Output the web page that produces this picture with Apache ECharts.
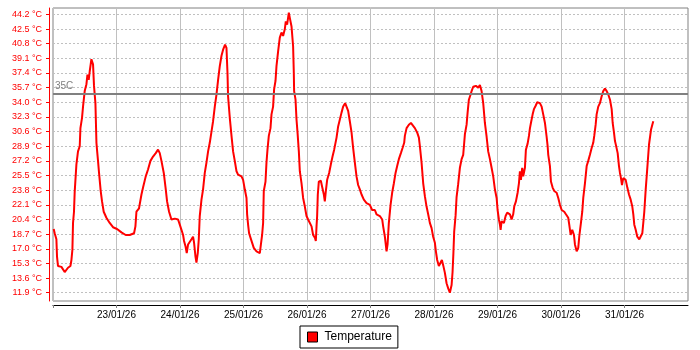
<!DOCTYPE html>
<html>
<head>
<meta charset="utf-8">
<script src="https://cdn.jsdelivr.net/npm/echarts@6/dist/echarts.min.js"></script>
<style>
html,body{margin:0;padding:0;background:#fff;}
#chart{width:700px;height:350px;}
</style>
</head>
<body>
<div id="chart"></div>
<script>
const seriesName = 'Temperature';
const thresholdValue = 35;
const thresholdLabel = '35C';
const yTicks = [11.9, 13.6, 15.3, 17.0, 18.7, 20.4, 22.1, 23.8, 25.5, 27.2, 28.9, 30.6, 32.3, 34.0, 35.7, 37.4, 39.1, 40.8, 42.5, 44.2];
const xStart = '2026-01-22 00:00';
const xEnd = '2026-02-01 00:00';

const times = [
'01-22 00:16','01-22 00:38','01-22 01:17','01-22 01:31','01-22 01:53','01-22 03:11','01-22 04:25','01-22 05:40','01-22 06:35','01-22 06:58',
'01-22 07:20','01-22 07:34','01-22 07:56','01-22 08:12','01-22 08:51','01-22 09:27','01-22 10:06','01-22 10:22','01-22 10:58','01-22 11:21',
'01-22 11:59','01-22 12:38','01-22 13:01','01-22 13:30','01-22 13:53','01-22 14:31','01-22 15:08','01-22 15:30','01-22 16:02','01-22 16:25',
'01-22 16:38','01-22 17:01','01-22 17:24','01-22 18:02','01-22 18:32','01-22 19:10','01-22 20:11','01-22 21:26','01-22 22:41',
'01-23 00:12','01-23 01:52','01-23 03:29','01-23 05:00','01-23 06:38','01-23 07:09','01-23 07:32','01-23 08:31','01-23 09:26','01-23 10:02',
'01-23 11:03','01-23 11:55','01-23 12:50','01-23 13:49','01-23 14:50','01-23 15:42','01-23 16:21','01-23 16:59','01-23 17:52','01-23 18:37',
'01-23 19:07','01-23 19:52','01-23 20:46','01-23 22:01','01-23 23:16','01-23 23:55',
'01-24 00:33','01-24 01:10','01-24 01:32','01-24 02:04','01-24 02:33','01-24 03:03','01-24 03:41','01-24 04:20','01-24 04:56','01-24 05:19',
'01-24 05:51','01-24 06:13','01-24 06:43','01-24 07:06','01-24 07:28','01-24 08:07','01-24 08:43','01-24 09:22','01-24 10:00','01-24 10:37',
'01-24 11:15','01-24 11:54','01-24 12:30','01-24 13:09','01-24 13:47','01-24 14:24','01-24 15:02','01-24 15:41','01-24 16:17','01-24 17:02',
'01-24 17:34','01-24 17:57','01-24 18:10','01-24 18:49','01-24 19:28','01-24 20:04','01-24 20:42','01-24 21:21','01-24 21:57','01-24 23:14','01-24 23:51',
'01-25 00:29','01-25 01:08','01-25 01:22','01-25 01:44','01-25 02:07','01-25 02:38','01-25 03:53','01-25 04:55','01-25 06:10','01-25 06:48',
'01-25 07:02','01-25 07:25','01-25 07:40','01-25 08:19','01-25 08:41','01-25 09:04','01-25 09:34','01-25 10:12','01-25 10:35','01-25 11:11',
'01-25 11:34','01-25 12:06','01-25 12:28','01-25 13:05','01-25 13:43','01-25 14:22','01-25 14:58','01-25 15:37','01-25 15:59','01-25 16:29',
'01-25 17:08','01-25 17:30','01-25 18:09','01-25 18:45','01-25 19:01','01-25 19:08','01-25 19:40','01-25 20:02','01-25 20:25','01-25 20:55',
'01-25 21:17','01-25 21:56','01-25 22:32','01-25 23:11','01-25 23:49',
'01-26 00:25','01-26 01:43','01-26 02:19','01-26 02:58','01-26 03:20','01-26 03:36','01-26 03:50','01-26 04:05','01-26 04:28','01-26 05:14',
'01-26 05:43','01-26 06:22','01-26 06:44','01-26 07:07','01-26 07:37','01-26 08:22','01-26 09:01','01-26 09:39','01-26 10:16','01-26 11:10',
'01-26 11:46','01-26 12:25','01-26 13:03','01-26 13:40','01-26 14:25','01-26 15:03','01-26 15:33','01-26 16:11','01-26 16:50','01-26 17:26',
'01-26 18:05','01-26 18:43','01-26 19:20','01-26 19:58','01-26 20:37','01-26 21:29','01-26 22:31','01-26 23:45',
'01-27 00:37','01-27 01:39','01-27 02:17','01-27 03:32','01-27 04:25','01-27 04:47','01-27 05:26','01-27 06:04','01-27 06:27','01-27 06:56',
'01-27 07:35','01-27 08:11','01-27 08:50','01-27 09:28','01-27 10:05','01-27 10:43','01-27 11:29','01-27 12:07','01-27 12:44','01-27 12:59',
'01-27 13:38','01-27 14:30','01-27 15:16','01-27 16:01','01-27 16:46','01-27 17:38','01-27 18:17','01-27 18:40','01-27 19:18','01-27 19:55',
'01-27 20:33','01-27 21:11','01-27 21:48','01-27 22:26','01-27 23:05','01-27 23:41',
'01-28 00:20','01-28 00:43','01-28 01:12','01-28 01:50','01-28 02:29','01-28 02:59','01-28 03:28','01-28 04:07','01-28 04:45','01-28 05:22',
'01-28 06:00','01-28 06:39','01-28 07:01','01-28 07:20','01-28 07:38','01-28 08:10','01-28 08:32','01-28 09:08','01-28 09:47','01-28 10:26',
'01-28 11:02','01-28 11:25','01-28 11:41','01-28 12:19','01-28 12:42','01-28 13:11','01-28 13:50','01-28 14:13','01-28 14:49','01-28 15:50',
'01-28 16:43','01-28 17:21','01-28 17:59','01-28 18:36','01-28 19:14','01-28 19:53','01-28 20:29','01-28 21:08','01-28 21:46','01-28 22:23',
'01-28 23:01','01-28 23:40',
'01-29 00:02','01-29 00:32','01-29 00:55','01-29 01:11','01-29 01:33','01-29 02:25','01-29 03:04','01-29 03:40','01-29 04:41','01-29 05:20',
'01-29 05:56','01-29 06:19','01-29 06:58','01-29 07:36','01-29 08:06','01-29 08:28','01-29 08:51','01-29 09:20','01-29 09:43','01-29 10:22',
'01-29 10:44','01-29 11:23','01-29 11:53','01-29 12:16','01-29 12:38','01-29 13:17','01-29 13:46','01-29 14:25','01-29 15:01','01-29 16:02',
'01-29 16:41','01-29 17:17','01-29 17:56','01-29 18:34','01-29 18:57','01-29 19:11','01-29 19:49','01-29 20:12','01-29 20:50','01-29 21:27',
'01-29 22:21','01-29 22:58','01-29 23:36',
'01-30 00:15','01-30 01:14','01-30 01:52','01-30 02:44','01-30 03:07','01-30 03:39','01-30 04:15','01-30 04:54','01-30 05:16','01-30 05:55',
'01-30 06:31','01-30 06:54','01-30 07:32','01-30 08:02','01-30 08:25','01-30 09:03','01-30 09:42','01-30 10:18','01-30 10:56','01-30 11:35',
'01-30 12:11','01-30 12:34','01-30 13:06','01-30 13:28','01-30 14:05','01-30 14:43','01-30 15:22','01-30 15:58','01-30 16:37','01-30 17:16',
'01-30 17:52','01-30 18:31','01-30 19:09','01-30 19:32','01-30 20:01','01-30 20:24','01-30 20:47','01-30 21:25','01-30 21:55','01-30 22:17',
'01-30 22:40','01-30 23:03','01-30 23:32',
'01-31 00:27','01-31 01:04','01-31 01:42','01-31 02:20','01-31 02:57','01-31 03:20','01-31 03:42','01-31 04:14','01-31 04:50','01-31 05:35',
'01-31 06:14','01-31 06:44','01-31 07:06','01-31 07:29','01-31 08:01','01-31 08:23','01-31 08:46','01-31 09:16','01-31 10:01','01-31 10:31','01-31 10:53'
];

const temps = [
19.3,18.8,18.1,16.1,15.0,14.9,14.3,14.8,15.0,15.7,
16.9,20.0,21.3,23.6,26.8,28.3,28.9,31.0,32.2,33.5,
35.3,36.1,37.2,36.6,37.6,39.0,38.4,35.9,33.9,29.3,
28.5,27.2,25.8,23.7,22.5,21.3,20.6,20.0,19.5,
19.3,18.9,18.6,18.6,18.8,19.6,21.3,21.7,23.3,24.1,
25.4,26.2,27.2,27.7,28.1,28.5,28.1,27.2,25.8,23.9,
22.5,21.3,20.4,20.5,20.4,19.8,
19.2,18.6,17.9,17.3,16.5,17.5,17.7,18.1,18.4,17.7,
16.1,15.4,16.5,18.1,20.8,22.7,23.9,25.8,27.0,28.3,
29.3,30.6,31.8,33.5,34.9,36.6,38.2,39.4,40.1,40.7,
40.3,37.4,34.7,32.2,30.1,28.3,27.2,26.0,25.6,25.4,25.0,
23.9,22.9,21.0,19.8,18.8,18.3,17.1,16.7,16.5,16.3,
18.6,20.0,23.7,24.8,27.0,28.5,30.1,31.0,32.6,33.5,
35.5,36.5,38.2,39.9,41.5,42.1,41.7,42.5,43.4,43.0,
44.4,43.8,42.8,40.5,37.4,35.3,34.3,32.0,30.5,28.3,
26.0,24.6,22.9,21.9,20.8,
20.4,19.6,18.6,18.3,17.9,19.6,20.8,23.3,24.8,24.9,
24.2,23.3,22.5,23.7,25.0,25.8,26.8,27.7,28.5,29.9,
31.2,32.0,32.8,33.5,33.9,33.8,33.0,31.8,30.5,28.7,
27.0,25.4,24.4,23.9,23.3,22.7,22.3,22.1,
21.5,21.5,21.0,20.8,20.4,19.6,18.4,16.7,17.5,20.0,
22.1,23.5,24.6,25.8,26.6,27.4,28.1,28.7,29.3,30.1,
31.0,31.4,31.6,31.5,31.0,30.5,29.9,28.9,27.0,24.6,
23.1,21.9,21.0,20.0,19.4,18.4,
17.7,16.7,15.7,15.0,14.8,15.7,15.1,14.2,13.0,12.4,
11.9,12.8,14.3,16.5,19.0,20.9,23.0,24.5,26.4,27.4,
27.9,29.3,30.3,31.4,32.8,34.3,34.9,35.3,35.8,35.9,
35.7,36.0,35.3,33.9,31.6,30.0,28.3,27.4,26.4,25.4,
23.9,22.9,
21.5,20.4,19.8,19.2,20.2,20.0,20.8,21.2,21.0,20.4,
21.0,21.9,22.5,23.5,24.6,26.0,25.0,26.4,25.4,26.4,
28.5,29.2,30.1,31.0,31.6,32.6,33.2,33.6,34.0,33.9,
33.5,32.6,31.6,30.0,28.9,27.9,26.6,24.8,24.1,23.7,
23.5,22.9,22.1,
21.5,21.3,21.0,20.6,19.8,18.6,19.2,18.6,17.5,16.7,
17.1,18.4,20.0,21.3,22.9,24.6,26.6,27.2,27.9,28.7,
29.3,30.1,31.4,32.6,33.5,33.9,34.7,35.3,35.6,35.3,
34.9,34.3,33.2,31.6,30.5,29.5,29.0,28.1,26.6,25.8,
25.2,24.4,25.2,
25.0,24.1,23.3,22.7,21.9,21.0,19.8,19.2,18.4,18.1,
18.3,18.8,20.0,21.3,23.9,25.4,27.0,29.1,30.8,31.4,31.8
];

const data = times.map((t, i) => ['2026-' + t, temps[i]]);
const xMinTs = echarts.time.parse(xStart).getTime();
const xMaxTs = echarts.time.parse(xEnd).getTime();

function pad(n){ return (n < 10 ? '0' : '') + n; }

const chart = echarts.init(document.getElementById('chart'), null, {renderer: 'canvas'});
chart.setOption({
  animation: false,
  backgroundColor: '#ffffff',
  grid: {
    left: 53, right: 12, top: 8, bottom: 49,
    show: true, borderColor: '#808080', borderWidth: 1, backgroundColor: '#ffffff'
  },
  legend: {
    data: [seriesName],
    left: 300, top: 326,
    icon: 'rect', itemWidth: 10, itemHeight: 10,
    itemStyle: { borderColor: '#000000', borderWidth: 1 },
    borderColor: '#000000', borderWidth: 1, borderRadius: 0,
    padding: [5, 6, 5, 7],
    textStyle: { fontFamily: 'Liberation Sans', fontSize: 12, color: '#000000', padding: [0, 0, 0, 2] }
  },
  xAxis: {
    type: 'time',
    min: xStart, max: xEnd,
    minInterval: 86400000, maxInterval: 86400000,
    offset: 4,
    axisLine: { show: true, onZero: false, lineStyle: { color: '#000000', width: 1 } },
    axisTick: { show: true, length: 3, lineStyle: { color: '#808080' } },
    axisLabel: {
      show: true, showMinLabel: false, showMaxLabel: false,
      fontFamily: 'Liberation Sans', fontSize: 10, color: '#000000', margin: 5,
      formatter: function (v) {
        const t = typeof v === 'number' ? v : new Date(v).getTime();
        if (t <= xMinTs + 1000 || t >= xMaxTs - 1000) { return ''; }
        const d = new Date(t);
        return pad(d.getDate()) + '/' + pad(d.getMonth() + 1) + '/' + pad(d.getFullYear() % 100);
      }
    },
    splitLine: { show: true, lineStyle: { color: '#c0c0c0', width: 1, type: 'solid' } }
  },
  yAxis: {
    type: 'value',
    min: 10.94, max: 44.94,
    offset: 4,
    axisLine: { show: true, lineStyle: { color: '#ff0000', width: 1 } },
    axisTick: { show: true, length: 3, lineStyle: { color: '#ff0000' }, customValues: yTicks },
    axisLabel: {
      customValues: yTicks,
      fontFamily: 'Liberation Sans', fontSize: 9, color: '#ff0000', margin: 7,
      formatter: function (v) { return v.toFixed(1) + ' °C'; }
    },
    splitLine: { show: true, lineStyle: { color: '#c0c0c0', width: 1, type: [2, 2] } }
  },
  series: [{
    name: seriesName,
    type: 'line',
    data: data,
    showSymbol: false,
    symbol: 'none',
    color: '#ff0000',
    lineStyle: { color: '#ff0000', width: 2 },
    markLine: {
      silent: true,
      symbol: ['none', 'none'],
      lineStyle: { color: '#808080', width: 2, type: 'solid' },
      label: { show: true, formatter: thresholdLabel, position: 'insideStartTop', color: '#808080', fontFamily: 'Liberation Sans', fontSize: 10, distance: [2, 2] },
      data: [{ yAxis: thresholdValue }]
    }
  }]
});
</script>
</body>
</html>
